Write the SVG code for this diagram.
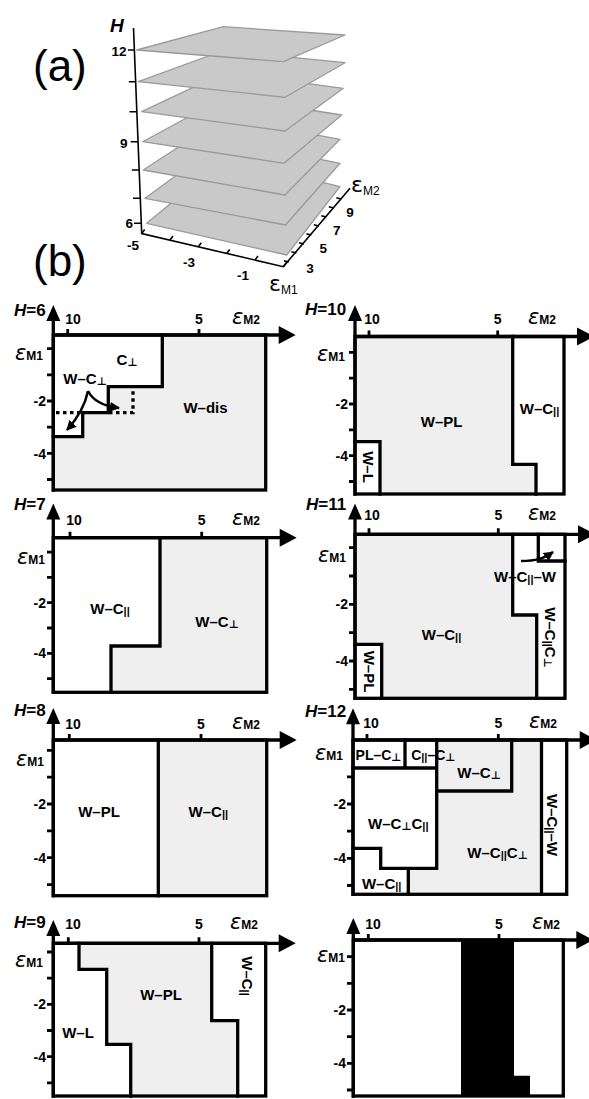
<svg xmlns="http://www.w3.org/2000/svg" width="589" height="1099" viewBox="0 0 589 1099">
<style>
.bg{fill:#fff}
.g{fill:#efefef}
.k{fill:#000}
.ln{stroke:#000;stroke-width:3.3;fill:none;stroke-linecap:square}
.dot{stroke:#000;stroke-width:3.3;fill:none;stroke-dasharray:3.5,3.5}
.tk{stroke:#000;stroke-width:2.8;fill:none}
.arw{stroke:#000;stroke-width:2.5;fill:none}
.t{font-family:"Liberation Sans",Arial,"DejaVu Sans",sans-serif;font-weight:bold;font-size:15px;text-anchor:middle;fill:#000}
.s{font-size:11px}
.n{font-family:"Liberation Sans",Arial,sans-serif;font-weight:bold;font-size:14px;fill:#000}
.r{text-anchor:end}
.c{text-anchor:middle}
.hl{font-family:"Liberation Sans",Arial,sans-serif;font-weight:bold;font-size:17px;fill:#000}
.ep{font-family:"DejaVu Sans",sans-serif;font-style:oblique;font-size:21px;font-weight:normal}
.sb{font-family:"Liberation Sans",Arial,sans-serif;font-weight:bold;font-size:12px}
.big{font-family:"Liberation Sans",Arial,sans-serif;font-size:44px;fill:#000}
.pl{fill:#c9c9c9;stroke:#9a9a9a;stroke-width:1.3;stroke-linejoin:round}
.ax3{stroke:#000;stroke-width:1.6;fill:none}
.t3{font-family:"Liberation Sans",Arial,sans-serif;font-weight:bold;font-size:13.5px;fill:#000}
</style>
<defs>
<marker id="ah" viewBox="0 0 10 10" refX="9" refY="5" markerWidth="4" markerHeight="4" orient="auto" markerUnits="strokeWidth">
<path d="M0,0 L10,5 L0,10 z" fill="#000"/>
</marker>
</defs>
<rect class="bg" x="0" y="0" width="589" height="1099"/>

<!-- (a) 3D plot -->
<g id="plot-a">
<text class="big" x="33" y="81">(a)</text>
<polygon class="pl" points="146.7,223.3 286.7,255 340,186.7 225,158.4"/>
<polygon class="pl" points="145,198.3 285.5,225 340,163.3 224.5,140"/>
<polygon class="pl" points="143.3,170 285,195 340,139.3 223.3,117.7"/>
<polygon class="pl" points="142.7,141.7 284,163.3 341.7,115 225.4,96.8"/>
<polygon class="pl" points="141.7,111.7 285,131 343.3,88.3 225,72.4"/>
<polygon class="pl" points="138.3,81.7 285,97.3 345,62.7 223.3,50.5"/>
<polygon class="pl" points="136.7,50 283.3,61.7 345,35 223.3,26.7"/>
<path class="ax3" d="M133.5,28 L141.7,233.5 L283.3,266.7 L350,188.3"/>
<path class="ax3" d="M128,50 H134.4 M128.8,81.7 H135.6 M129.5,111.7 H136.8 M130.7,141.7 H138 M131.8,170 H139.2 M133,198.3 H140.3 M134,223.3 H141.3"/>
<path class="ax3" d="M141.7,233.5 l3,-4 M170,240.1 l3,-4 M198.3,246.8 l3,-4 M226.7,253.4 l3,-4 M255,260 l3,-4 M283.3,266.7 l3,-4"/>
<path class="ax3" d="M288.9,262 l-5,-1.2 M296.4,253 l-5,-1.2 M303.9,244 l-5,-1.2 M311.3,235 l-5,-1.2 M318.8,226 l-5,-1.2 M326.3,217 l-5,-1.2 M333.8,208 l-5,-1.2 M341.3,199 l-5,-1.2"/>
<text class="t3" x="110" y="31.7" style="font-style:italic;font-size:19px">H</text>
<text class="t3 r" x="126.5" y="55.5">12</text>
<text class="t3 r" x="127.5" y="148">9</text>
<text class="t3 r" x="133" y="228">6</text>
<text class="t3 c" x="133" y="249.5">-5</text>
<text class="t3 c" x="189" y="266.5">-3</text>
<text class="t3 c" x="243" y="280">-1</text>
<text class="t3 c" x="310" y="273">3</text>
<text class="t3 c" x="323.3" y="253">5</text>
<text class="t3 c" x="336.7" y="235">7</text>
<text class="t3 c" x="350" y="216.5">9</text>
<text x="351" y="192" font-family="DejaVu Sans,sans-serif" font-size="22">ε<tspan font-family="Liberation Sans,Arial,sans-serif" font-size="12" dy="3">M2</tspan></text>
<text x="269" y="291" font-family="DejaVu Sans,sans-serif" font-size="22">ε<tspan font-family="Liberation Sans,Arial,sans-serif" font-size="12" dy="3">M1</tspan></text>
</g>

<text class="big" x="33" y="276">(b)</text>

<!-- H=6 -->
<g id="panel-h6">
<polygon class="g" points="162.3,335 265.7,335 265.7,490 53.3,490 53.3,436.7 82.7,436.7 82.7,412.7 108.3,412.7 108.3,386.7 162.3,386.7"/>
<polyline class="ln" points="162.3,335 162.3,386.7 108.3,386.7 108.3,412.7 82.7,412.7 82.7,436.7 53.3,436.7"/>
<path class="dot" d="M56,412.7 H82 M109,412.7 H133 V390"/>
<rect class="ln" x="53.3" y="335" width="212.4" height="155"/>
<path class="ln" d="M53.3,319 V490 M53.3,335 H281"/>
<polygon class="k" points="53.3,305 46.3,321 60.3,321"/>
<polygon class="k" points="295.7,335 278.7,326 278.7,344"/>
<path class="tk" d="M47,348.7 H53 M47,374.9 H53 M47,401 H53 M47,427.2 H53 M47,453.3 H53 M47,479.5 H53 M67.7,329 V335 M199,329 V335"/>
<path class="arw" d="M88,391 Q84,411 67,430" marker-end="url(#ah)"/>
<path class="arw" d="M88,391 Q95,405 119,408" marker-end="url(#ah)"/>
<text class="hl" x="14" y="316"><tspan font-style="italic">H</tspan>=6</text>
<text class="n c" x="73" y="324">10</text>
<text class="n c" x="199" y="324">5</text>
<text x="232" y="324"><tspan class="ep">ε</tspan><tspan class="sb">M2</tspan></text>
<text x="15" y="360"><tspan class="ep">ε</tspan><tspan class="sb">M1</tspan></text>
<text class="n r" x="46" y="406">-2</text>
<text class="n r" x="46" y="458.5">-4</text>
<text class="t" x="127" y="365">C<tspan class="s" dy="1">⊥</tspan></text>
<text class="t" x="85" y="384">W–C<tspan class="s" dy="1">⊥</tspan></text>
<text class="t" x="205.5" y="412.7">W–dis</text>
</g>

<!-- H=7 -->
<g id="panel-h7">
<polygon class="g" points="160,537.7 266.7,537.7 266.7,692.3 111,692.3 111,646 160,646"/>
<polyline class="ln" points="160,537.7 160,646 111,646 111,692.3"/>
<rect class="ln" x="53.3" y="537.7" width="213.4" height="154.6"/>
<path class="ln" d="M53.3,518 V692.3 M53.3,537.7 H282"/>
<polygon class="k" points="53.3,503.5 46.3,519.5 60.3,519.5"/>
<polygon class="k" points="296.7,537.7 279.7,528.7 279.7,546.7"/>
<path class="tk" d="M47,552.1 H53 M47,577.4 H53 M47,602.7 H53 M47,628 H53 M47,653.3 H53 M47,678.6 H53 M70,531.7 V537.7 M201.7,531.7 V537.7"/>
<text class="hl" x="14" y="510"><tspan font-style="italic">H</tspan>=7</text>
<text class="n c" x="74" y="525">10</text>
<text class="n c" x="201.7" y="525">5</text>
<text x="232" y="525"><tspan class="ep">ε</tspan><tspan class="sb">M2</tspan></text>
<text x="17" y="564"><tspan class="ep">ε</tspan><tspan class="sb">M1</tspan></text>
<text class="n r" x="46" y="607.7">-2</text>
<text class="n r" x="46" y="658.3">-4</text>
<text class="t" x="110" y="614">W–C<tspan class="s" dy="1">||</tspan></text>
<text class="t" x="217" y="626.5">W–C<tspan class="s" dy="1">⊥</tspan></text>
</g>

<!-- H=8 -->
<g id="panel-h8">
<rect class="g" x="158.3" y="740" width="108.4" height="155.7"/>
<path class="ln" d="M158.3,740 V895.7"/>
<rect class="ln" x="53.3" y="740" width="213.4" height="155.7"/>
<path class="ln" d="M53.3,722 V895.7 M53.3,740 H282"/>
<polygon class="k" points="53.3,708 46.3,724 60.3,724"/>
<polygon class="k" points="296.7,740 279.7,731 279.7,749"/>
<path class="tk" d="M47,750.3 H53 M47,777.2 H53 M47,804 H53 M47,830.9 H53 M47,857.7 H53 M47,884.6 H53 M69.3,734 V740 M201,734 V740"/>
<text class="hl" x="14" y="716"><tspan font-style="italic">H</tspan>=8</text>
<text class="n c" x="73" y="729">10</text>
<text class="n c" x="201" y="729">5</text>
<text x="232" y="729"><tspan class="ep">ε</tspan><tspan class="sb">M2</tspan></text>
<text x="16" y="766"><tspan class="ep">ε</tspan><tspan class="sb">M1</tspan></text>
<text class="n r" x="46" y="809">-2</text>
<text class="n r" x="46" y="862.7">-4</text>
<text class="t" x="99" y="817">W–PL</text>
<text class="t" x="208.3" y="817">W–C<tspan class="s" dy="1">||</tspan></text>
</g>

<!-- H=9 -->
<g id="panel-h9">
<polygon class="g" points="79,943.3 211.7,943.3 211.7,1020.7 237.7,1020.7 237.7,1096 130.7,1096 130.7,1044.3 106.7,1044.3 106.7,969.3 79,969.3"/>
<polyline class="ln" points="79,943.3 79,969.3 106.7,969.3 106.7,1044.3 130.7,1044.3 130.7,1096"/>
<polyline class="ln" points="211.7,943.3 211.7,1020.7 237.7,1020.7 237.7,1096"/>
<rect class="ln" x="53.3" y="943.3" width="212.4" height="152.7"/>
<path class="ln" d="M53.3,934 V1096 M53.3,943.3 H281"/>
<polygon class="k" points="53.3,920 46.3,936 60.3,936"/>
<polygon class="k" points="295.7,943.3 278.7,934.3 278.7,952.3"/>
<path class="tk" d="M47,952 H53 M47,978.1 H53 M47,1004.3 H53 M47,1030.5 H53 M47,1056.7 H53 M47,1082.9 H53 M68.3,937.3 V943.3 M199,937.3 V943.3"/>
<text class="hl" x="14" y="928"><tspan font-style="italic">H</tspan>=9</text>
<text class="n c" x="73" y="929">10</text>
<text class="n c" x="199" y="929">5</text>
<text x="230" y="929"><tspan class="ep">ε</tspan><tspan class="sb">M2</tspan></text>
<text x="15" y="967"><tspan class="ep">ε</tspan><tspan class="sb">M1</tspan></text>
<text class="n r" x="46" y="1009.3">-2</text>
<text class="n r" x="46" y="1061.7">-4</text>
<text class="t" x="78" y="1038">W–L</text>
<text class="t" x="161" y="1000">W–PL</text>
<text class="t" transform="translate(246.7,976) rotate(90)" y="5">W–C<tspan class="s" dy="1">||</tspan></text>
</g>

<!-- H=10 -->
<g id="panel-h10">
<polygon class="g" points="355,336.5 512.7,336.5 512.7,464.3 536,464.3 536,494 380,494 380,441.7 355,441.7"/>
<polyline class="ln" points="512.7,336.5 512.7,464.3 536,464.3 536,494"/>
<polyline class="ln" points="355,441.7 380,441.7 380,494"/>
<rect class="ln" x="355" y="336.5" width="209" height="157.5"/>
<path class="ln" d="M355,319 V494 M355,336.5 H579"/>
<polygon class="k" points="355,305 348,321 362,321"/>
<polygon class="k" points="594,336.5 577,327.5 577,345.5"/>
<path class="tk" d="M349,352.4 H355 M349,378.2 H355 M349,404 H355 M349,429.8 H355 M349,455.7 H355 M349,481.5 H355 M369,330.5 V336.5 M497.7,330.5 V336.5"/>
<text class="hl" x="305" y="315"><tspan font-style="italic">H</tspan>=10</text>
<text class="n c" x="372" y="324.3">10</text>
<text class="n c" x="497.7" y="324.3">5</text>
<text x="528" y="324.3"><tspan class="ep">ε</tspan><tspan class="sb">M2</tspan></text>
<text x="317" y="360.7"><tspan class="ep">ε</tspan><tspan class="sb">M1</tspan></text>
<text class="n r" x="348" y="409">-2</text>
<text class="n r" x="348" y="460.7">-4</text>
<text class="t" x="441.7" y="427">W–PL</text>
<text class="t" x="539.5" y="414">W–C<tspan class="s" dy="1">||</tspan></text>
<text class="t" transform="translate(368,467) rotate(90)" y="5">W–L</text>
</g>

<!-- H=11 -->
<g id="panel-h11">
<polygon class="g" points="355,534.3 512.7,534.3 512.7,615 536.7,615 536.7,698.3 381.7,698.3 381.7,644.3 355,644.3"/>
<polyline class="ln" points="512.7,534.3 512.7,615 536.7,615 536.7,698.3"/>
<polyline class="ln" points="538.3,534.3 538.3,561 565,561"/>
<polyline class="ln" points="355,644.3 381.7,644.3 381.7,698.3"/>
<rect class="ln" x="355" y="534.3" width="210" height="164"/>
<path class="ln" d="M355,518 V698.3 M355,534.3 H580"/>
<polygon class="k" points="355,503.5 348,519.5 362,519.5"/>
<polygon class="k" points="595,534.3 578,525.3 578,543.3"/>
<path class="tk" d="M349,547.7 H355 M349,576 H355 M349,604.3 H355 M349,632.7 H355 M349,661 H355 M349,689.3 H355 M369,528.3 V534.3 M498.3,528.3 V534.3"/>
<path class="arw" d="M521,561 C536,561 543,559 553,552" marker-end="url(#ah)"/>
<text class="hl" x="306" y="510"><tspan font-style="italic">H</tspan>=11</text>
<text class="n c" x="372" y="520">10</text>
<text class="n c" x="498.3" y="520">5</text>
<text x="528" y="520"><tspan class="ep">ε</tspan><tspan class="sb">M2</tspan></text>
<text x="318" y="561.7"><tspan class="ep">ε</tspan><tspan class="sb">M1</tspan></text>
<text class="n r" x="348" y="609.3">-2</text>
<text class="n r" x="348" y="666">-4</text>
<text class="t" x="525" y="581.5">W–C<tspan class="s" dy="1">||</tspan><tspan dy="-1">–W</tspan></text>
<text class="t" x="441.5" y="639.5">W–C<tspan class="s" dy="1">||</tspan></text>
<text class="t" transform="translate(550,637.5) rotate(90)" y="5">W–C<tspan class="s" dy="1">||</tspan><tspan dy="-1">C</tspan><tspan class="s" dy="1">⊥</tspan></text>
<text class="t" transform="translate(369,671.5) rotate(90)" y="5">W–PL</text>
</g>

<!-- H=12 -->
<g id="panel-h12">
<polygon class="g" points="436.7,740 541.5,740 541.5,894.3 408.3,894.3 408.3,868.3 436.7,868.3"/>
<path class="ln" d="M436.7,740 V868.3 H380.7 V848.3 H353 M408.3,868.3 V894.3 M353,768 H436.7 M405,740 V768 M436.7,791 H511.7 V740 M541.5,740 V894.3"/>
<rect class="ln" x="353" y="740" width="213.7" height="154.3"/>
<path class="ln" d="M353,722 V894.3 M353,740 H582"/>
<polygon class="k" points="353,708.3 346,724.3 360,724.3"/>
<polygon class="k" points="596.7,740 579.7,731 579.7,749"/>
<path class="tk" d="M347,776.8 H353 M347,804 H353 M347,831.2 H353 M347,858.3 H353 M347,885.5 H353 M367,734 V740 M498.3,734 V740"/>
<text class="hl" x="305" y="717.3"><tspan font-style="italic">H</tspan>=12</text>
<text class="n c" x="371" y="728.3">10</text>
<text class="n c" x="498.3" y="728.3">5</text>
<text x="529" y="728.3"><tspan class="ep">ε</tspan><tspan class="sb">M2</tspan></text>
<text x="315" y="760"><tspan class="ep">ε</tspan><tspan class="sb">M1</tspan></text>
<text class="n r" x="346" y="809">-2</text>
<text class="n r" x="346" y="863.3">-4</text>
<text class="t" x="378.5" y="760" style="font-size:14px">PL–C<tspan class="s" dy="1">⊥</tspan></text>
<text class="t" x="433.3" y="760" style="font-size:14px">C<tspan class="s" dy="1">||</tspan><tspan dy="-1">–C</tspan><tspan class="s" dy="1">⊥</tspan></text>
<text class="t" x="479" y="778">W–C<tspan class="s" dy="1">⊥</tspan></text>
<text class="t" x="398.3" y="829">W–C<tspan class="s" dy="1">⊥</tspan><tspan dy="-1">C</tspan><tspan class="s" dy="1">||</tspan></text>
<text class="t" x="497.5" y="858.3">W–C<tspan class="s" dy="1">||</tspan><tspan dy="-1">C</tspan><tspan class="s" dy="1">⊥</tspan></text>
<text class="t" x="381.7" y="889">W–C<tspan class="s" dy="1">||</tspan></text>
<text class="t" transform="translate(552,825) rotate(90)" y="5">W–C<tspan class="s" dy="1">||</tspan><tspan dy="-1">–W</tspan></text>
</g>

<!-- last panel -->
<g id="panel-last">
<polygon class="k" points="461,940 514,940 514,1075.7 530,1075.7 530,1096 461,1096"/>
<rect class="ln" x="353.3" y="940" width="210" height="156"/>
<path class="ln" d="M353.3,932 V1096 M353.3,940 H578"/>
<polygon class="k" points="353.3,918 346.3,934 360.3,934"/>
<polygon class="k" points="593.3,940 576.3,931 576.3,949"/>
<path class="tk" d="M347,956.7 H353 M347,983.3 H353 M347,1010 H353 M347,1036.7 H353 M347,1063.3 H353 M347,1090 H353 M368.3,934 V940 M499,934 V940"/>
<text class="n c" x="373" y="929">10</text>
<text class="n c" x="499" y="929">5</text>
<text x="532" y="929"><tspan class="ep">ε</tspan><tspan class="sb">M2</tspan></text>
<text x="317" y="962"><tspan class="ep">ε</tspan><tspan class="sb">M1</tspan></text>
<text class="n r" x="346" y="1015">-2</text>
<text class="n r" x="346" y="1068.3">-4</text>
</g>
</svg>
